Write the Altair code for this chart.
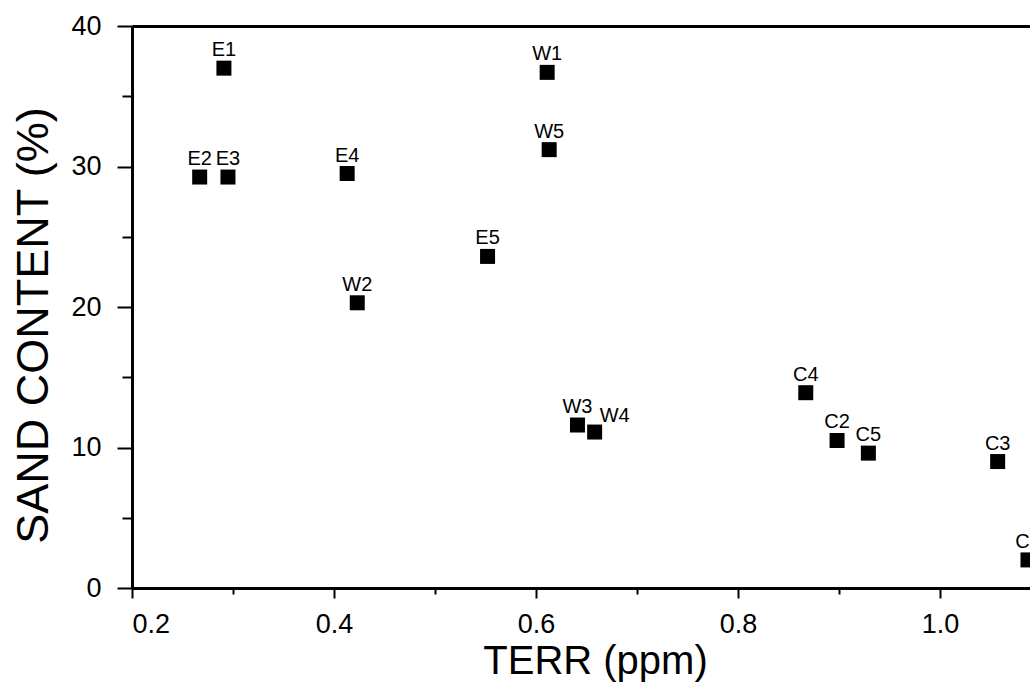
import altair as alt
import pandas as pd

names = ["E1", "E2", "E3", "E4", "E5", "W1", "W2", "W3", "W4", "W5", "C1", "C2", "C3", "C4", "C5"]
terr = [0.291, 0.267, 0.295, 0.413, 0.552, 0.611, 0.423, 0.641, 0.658, 0.613, 1.087, 0.898, 1.057, 0.867, 0.929]
sand = [37.0, 29.25, 29.25, 29.5, 23.6, 36.7, 20.3, 11.6, 11.1, 31.2, 2.0, 10.5, 9.0, 13.9, 9.6]

x_major = [0.2, 0.4, 0.6, 0.8, 1.0]
x_minor = [0.3, 0.5, 0.7, 0.9]
y_major = [0, 10, 20, 30, 40]
y_minor = [5, 15, 25, 35]

df = pd.DataFrame({"name": names, "terr": terr, "sand": sand})

FONT = "Liberation Sans"
W, H = 898, 562

xs = alt.Scale(domain=[0.2, 1.089], nice=False, zero=False)
ys = alt.Scale(domain=[0, 40], nice=False, zero=True)

common_axis = dict(domainColor="black", tickColor="black", domainWidth=3,
                   tickWidth=2, grid=False, labelFont=FONT, titleFont=FONT,
                   labelColor="black", titleColor="black")

x_major_axis = alt.Axis(orient="bottom", values=x_major, format=".1f", tickSize=10,
                        labelFontSize=27, labelBaseline="alphabetic", labelPadding=34,
                        title="TERR (ppm)", titleFontSize=40, titleFontWeight="normal",
                        titleBaseline="alphabetic", titleX=463, titleY=85,
                        titleAlign="center", **common_axis)
y_major_axis = alt.Axis(orient="left", values=y_major, tickSize=15, labelFontSize=27,
                        labelPadding=16, title="SAND CONTENT (%)", titleFontSize=45,
                        titleFontWeight="normal", titleBaseline="alphabetic",
                        titleX=-85, titleY=299, titleAlign="center", titleAngle=270,
                        **common_axis)
x_minor_axis = alt.Axis(orient="bottom", values=x_minor, tickSize=6, labels=False,
                        domain=False, title=None, **common_axis)
y_minor_axis = alt.Axis(orient="left", values=y_minor, tickSize=10, labels=False,
                        domain=False, title=None, **common_axis)
x_top_axis = alt.Axis(orient="top", ticks=False, labels=False, domain=True,
                      title=None, **common_axis)

base = alt.Chart(df)

points = base.mark_point(shape="square", filled=True, size=225, color="black",
                         opacity=1).encode(
    x=alt.X("terr:Q", scale=xs, axis=x_major_axis),
    y=alt.Y("sand:Q", scale=ys, axis=y_major_axis),
)

minor = base.mark_point(opacity=0).encode(
    x=alt.X("terr:Q", scale=xs, axis=x_minor_axis),
    y=alt.Y("sand:Q", scale=ys, axis=y_minor_axis),
)

labels = base.transform_filter(alt.datum.name != "W4").mark_text(
    font=FONT, fontSize=20, color="black", baseline="alphabetic", align="center", dy=-12
).encode(
    x=alt.X("terr:Q", scale=xs, axis=x_top_axis),
    y=alt.Y("sand:Q", scale=ys, axis=None),
    text="name:N",
)

label_w4 = base.transform_filter(alt.datum.name == "W4").mark_text(
    font=FONT, fontSize=20, color="black", baseline="alphabetic", align="center",
    dx=20, dy=-10
).encode(
    x=alt.X("terr:Q", scale=xs, axis=None),
    y=alt.Y("sand:Q", scale=ys, axis=None),
    text="name:N",
)

chart = alt.layer(points, minor, labels, label_w4).resolve_axis(
    x="independent", y="independent"
).properties(
    width=W, height=H,
    autosize=alt.AutoSizeParams(type="none"),
    padding={"left": 132, "top": 26, "right": 0, "bottom": 99},
    background="white",
).configure_view(stroke=None)

chart.save("out.html", embed_options={"renderer": "svg", "actions": False})
